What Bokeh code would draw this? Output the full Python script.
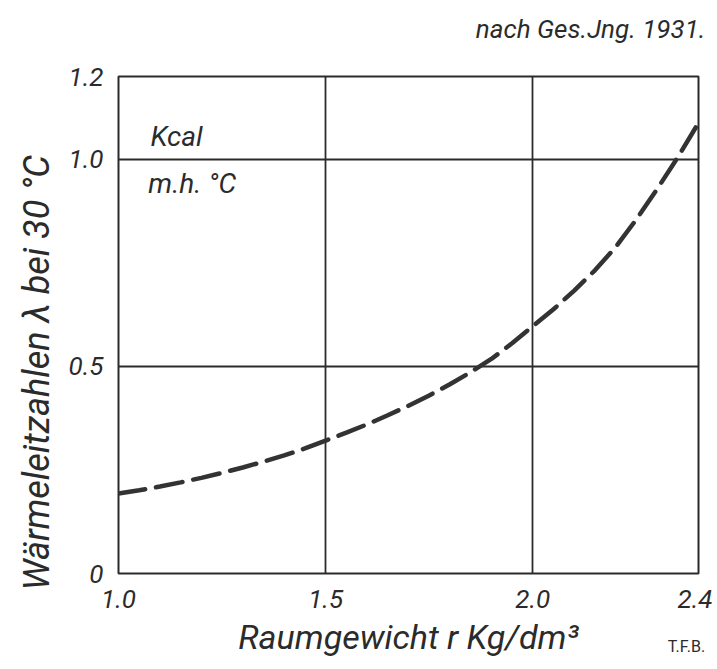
from bokeh.plotting import figure
from bokeh.models import FixedTicker, Label, Range1d, Title
from bokeh.embed import file_html
from bokeh.resources import INLINE

# ---- data ----
density = [1.00, 1.05, 1.10, 1.15, 1.20, 1.25, 1.30, 1.35, 1.40, 1.45, 1.50,
           1.55, 1.60, 1.65, 1.70, 1.75, 1.80, 1.85, 1.90, 1.95, 2.00,
           2.05, 2.10, 2.15, 2.20, 2.25, 2.30, 2.35, 2.40]
conductivity = [0.193, 0.201, 0.210, 0.220, 0.231, 0.243, 0.256, 0.270, 0.285, 0.302, 0.321,
                0.340, 0.360, 0.382, 0.405, 0.430, 0.457, 0.486, 0.518, 0.556, 0.597,
                0.638, 0.683, 0.732, 0.788, 0.855, 0.928, 1.005, 1.088]

x_ticks = [1.0, 1.5, 2.0, 2.4]
x_tick_labels = ["1.0", "1.5", "2.0", "2.4"]
y_ticks = [0.0, 0.5, 1.0, 1.2]
y_tick_labels = ["0", "0.5", "1.0", "1.2"]
x_grid = [1.5, 2.0]
y_grid = [0.5, 1.0]

title_text = "nach Ges.Jng. 1931."
x_label = "Raumgewicht r Kg/dm³"
y_label = "Wärmeleitzahlen λ bei 30 °C"
unit_top = "Kcal"
unit_bottom = "m.h. °C"
credit = "T.F.B."

FONT = "Roboto"
INK = "#2b2b2b"

p = figure(width=712, height=669, output_backend="svg", toolbar_location=None,
           title=None,
           x_range=Range1d(1.0, 2.4), y_range=Range1d(0.0, 1.2),
           min_border_left=118, min_border_right=14, min_border_top=76,
           min_border_bottom=96)
p.background_fill_color = "white"
p.border_fill_color = "white"
p.outline_line_color = INK
p.outline_line_width = 2

p.line(density, conductivity, line_color="#333333", line_width=4.5,
       line_dash="27 11", line_cap="round")

for ax in (p.xaxis[0], p.yaxis[0]):
    ax.axis_line_color = None
    ax.major_tick_line_color = None
    ax.minor_tick_line_color = None
    ax.major_label_text_font = FONT
    ax.major_label_text_font_style = "italic"
    ax.major_label_text_font_size = "26px"
    ax.major_label_text_color = INK

p.xaxis.ticker = FixedTicker(ticks=x_ticks)
p.xaxis.major_label_overrides = dict(zip(x_ticks, x_tick_labels))
p.xaxis.major_label_standoff = 10
p.xaxis.axis_label = x_label
p.xaxis.axis_label_text_font = FONT
p.xaxis.axis_label_text_font_style = "italic"
p.xaxis.axis_label_text_font_size = "34px"
p.xaxis.axis_label_text_color = INK
p.xaxis.axis_label_standoff = 6

p.yaxis.ticker = FixedTicker(ticks=y_ticks)
p.yaxis.major_label_overrides = dict(zip(y_ticks, y_tick_labels))
p.yaxis.major_label_standoff = 9
p.yaxis.major_label_orientation = "horizontal"

p.xgrid.ticker = FixedTicker(ticks=x_grid)
p.ygrid.ticker = FixedTicker(ticks=y_grid)
for g in (p.xgrid[0], p.ygrid[0]):
    g.grid_line_color = INK
    g.grid_line_width = 1.8
    g.grid_line_alpha = 1.0

# source note at the top right (label in the top panel, screen units relative to it)
p.add_layout(Label(x=587, y=48, x_units="screen", y_units="screen", text=title_text,
                   text_font=FONT, text_font_style="italic", text_font_size="26px",
                   text_color=INK, text_align="right", text_baseline="middle"), "above")

# small credit at the bottom right (stacked in the top panel, drawn below the frame)
p.add_layout(Label(x=568, y=-600, x_units="screen", y_units="screen", text=credit,
                   text_font=FONT, text_font_size="16px", text_color=INK,
                   text_align="center", text_baseline="middle"), "above")

# y axis label as a side title
p.add_layout(Title(text=y_label, align="left", offset=-17, standoff=16,
                   text_font=FONT, text_font_style="italic", text_font_size="36px",
                   text_color=INK), "left")

# unit labels inside the frame
for x, y, t in ((1.077, 1.055, unit_top), (1.072, 0.942, unit_bottom)):
    p.add_layout(Label(x=x, y=y, text=t, text_font=FONT, text_font_style="italic",
                       text_font_size="28px", text_color=INK, text_baseline="middle"))

open("out.html", "w").write(file_html(p, INLINE))
